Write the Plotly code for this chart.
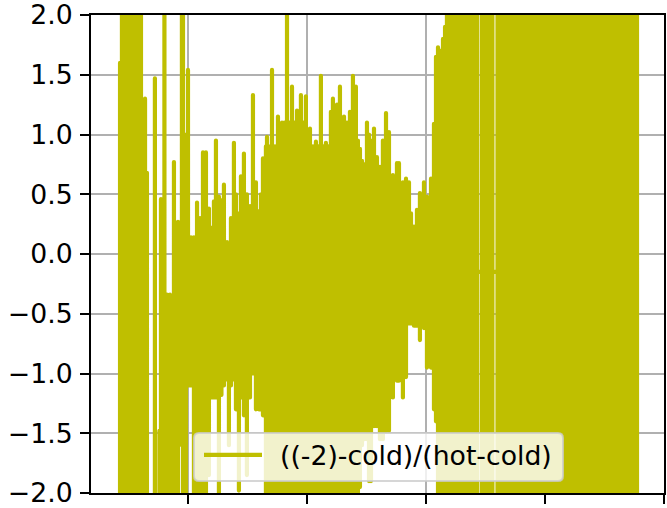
import plotly.graph_objects as go

SERIES_NAME = "((-2)-cold)/(hot-cold)"

sample_x = [
    429, 445, 479, 512, 546, 580, 605, 639, 655, 681,
    722, 760, 773, 802, 823, 849, 882, 916, 949, 958,
    983, 1000, 1025, 1050, 1076, 1101, 1126, 1151, 1176, 1202,
    1218, 1235, 1260, 1281, 1302, 1328, 1344, 1361, 1386, 1403,
    1428, 1445, 1470, 1495, 1521, 1546, 1571, 1596, 1613, 1630,
    1655, 1664, 1689, 1706, 1731, 1756, 1790, 1811, 1832, 1853,
    1874, 1895, 1916, 1949, 1970, 1991, 2025, 2050, 2075, 2096,
    2117, 2138, 2159, 2180, 2201, 2218, 2252, 2277, 2311, 2336,
    2361, 2386, 2411, 2428, 2445, 2462, 2483, 2504, 2521, 2538,
    2563, 2588, 2613, 2638, 2664, 2689, 2722, 2756, 2773, 2806,
    2832, 2857, 2874, 2899, 2924, 2949, 2983, 3008, 3042, 3067,
    3084, 3101, 3122, 3143, 3160, 3176, 3210, 3243, 3277, 3311,
    3344, 3378, 3412, 3428, 3468, 3496, 3529, 3558, 3601, 3630,
    3664, 3697, 3731, 3764, 3798, 3832, 3865, 3899, 3933, 3966,
    4000, 4033, 4067, 4101, 4134, 4168, 4201, 4235, 4269, 4302,
    4336, 4369, 4403, 4437, 4470, 4504, 4537, 4571, 4605, 4638,
    4672, 4705, 4739, 4773, 4781,
]
upper = [
    1.6, 2.6, 2.7, 2.6, 2.8, 2.6, 2.7, 1.30, 0.68, None,
    1.47, -1.48, 0.46, 2.6, -0.34, -0.34, 0.77, 0.27, 2.6, 2.6,
    1.0, 1.54, 0.14, 0.14, 0.43, 0.30, 0.85, 0.85, 0.38, 0.22,
    0.44, 0.95, 0.48, 0.45, 0.58, 0.10, 0.08, 0.30, 0.93, 0.50,
    0.34, 0.65, 0.84, 0.50, 0.40, 1.33, 0.60, 0.36, 0.50, 0.80,
    0.90, 0.98, 0.90, 1.54, 0.90, 1.15, 1.10, 1.10, 2.6, 1.10,
    1.40, 1.10, 1.20, 1.33, 1.10, 1.32, 1.05, 0.90, 0.94, 0.90,
    1.49, 0.90, 0.93, 0.90, 1.19, 1.30, 1.25, 1.40, 1.15, 1.10,
    1.19, 1.49, 1.40, 0.95, 0.88, 0.78, 0.75, 1.10, 1.00, 0.95,
    1.05, 0.81, 0.73, 0.95, 1.18, 1.02, 0.66, 0.76, 0.76, 0.60,
    0.63, 0.60, 0.34, 0.23, 0.37, 0.51, 0.60, 0.48, 0.63, 1.09,
    1.65, 1.73, 1.70, 1.80, 1.90, 2.6, 2.7, 2.9, 2.6, 2.8,
    2.7, 2.6, 2.9, 2.7, 2.6, 2.8, 2.7, 2.6, 2.9, 2.6,
    2.8, 2.7, 2.6, 2.9, 2.7, 2.6, 2.8, 2.6, 2.7, 2.9,
    2.6, 2.8, 2.7, 2.6, 2.9, 2.7, 2.6, 2.8, 2.6, 2.7,
    2.9, 2.6, 2.8, 2.7, 2.6, 2.9, 2.7, 2.6, 2.8, 2.6,
    2.7, 2.9, 2.6, 2.8, 2.7,
]
lower = [
    -3.0, -2.8, -3.0, -2.9, -3.0, -2.8, -3.0, -2.9, -3.0, None,
    -3.0, -3.0, -3.0, -3.0, -3.0, -3.0, -3.0, -3.0, -1.6, -3.0,
    -3.0, -1.1, -1.1, -3.0, -3.0, -3.0, -3.0, -3.0, -1.85, -1.2,
    -1.2, -1.2, -3.0, -1.18, -1.1, -1.05, -1.6, -1.1, -1.05, -1.3,
    -1.98, -1.2, -1.35, -1.85, -1.2, -1.0, -1.3, -1.3, -1.3, -1.35,
    -3.0, -3.0, -3.0, -3.0, -3.0, -3.0, -3.0, -3.0, -3.0, -3.0,
    -3.0, -3.0, -3.0, -3.0, -3.0, -3.0, -3.0, -3.0, -3.0, -3.0,
    -3.0, -3.0, -3.0, -3.0, -3.0, -3.0, -3.0, -3.0, -3.0, -3.0,
    -3.0, -3.0, -3.0, -3.0, -1.95, -1.6, -1.55, -1.55, -1.9, -1.9,
    -1.44, -1.44, -1.55, -1.55, -1.48, -1.48, -1.2, -1.06, -1.06, -1.2,
    -1.03, -0.58, -0.58, -0.6, -0.6, -0.72, -0.62, -0.95, -0.95, -1.3,
    -1.4, -3.0, -3.0, -3.0, -3.0, -3.0, -2.9, -3.1, -2.8, -3.0,
    -2.9, -3.1, -2.8, -3.0, -2.9, -3.1, -2.8, -3.0, -2.9, -3.1,
    -2.8, -3.0, -2.9, -3.1, -2.8, -3.0, -2.9, -3.1, -2.8, -3.0,
    -2.9, -3.1, -2.8, -3.0, -2.9, -3.1, -2.8, -3.0, -2.9, -3.1,
    -2.8, -3.0, -2.9, -3.1, -2.8, -3.0, -2.9, -3.1, -2.8, -3.0,
    -2.9, -3.1, -2.8, -3.0, -2.9,
]
assert len(sample_x) == len(upper) == len(lower)

# Vertical stroke per sample, joined to the next one inside their shared span.
line_x, line_y = [], []
for i, x in enumerate(sample_x):
    if upper[i] is None:
        line_x.append(x)
        line_y.append(None)
        continue
    line_x += [x, x]
    line_y += [upper[i], lower[i]]
    if i + 1 < len(sample_x) and upper[i + 1] is not None:
        link = (max(lower[i], lower[i + 1]) + min(upper[i], upper[i + 1])) / 2
        line_x += [x, sample_x[i + 1]]
        line_y += [link, link]

W, H = 667, 508
L, R, T, B = 91, 664, 15, 493

def px(v):
    return f"{(v - L) / (R - L):.5f}"

def py(v):
    return f"{(B - v) / (B - T):.5f}"

x0, x1, y0, y1, r = 194, 563, 433, 481, 5
frame = (
    f"M {px(x0 + r)} {py(y0)} L {px(x1 - r)} {py(y0)} Q {px(x1)} {py(y0)} {px(x1)} {py(y0 + r)} "
    f"L {px(x1)} {py(y1 - r)} Q {px(x1)} {py(y1)} {px(x1 - r)} {py(y1)} "
    f"L {px(x0 + r)} {py(y1)} Q {px(x0)} {py(y1)} {px(x0)} {py(y1 - r)} "
    f"L {px(x0)} {py(y0 + r)} Q {px(x0)} {py(y0)} {px(x0 + r)} {py(y0)} Z"
)

fig = go.Figure(go.Scatter(
    x=line_x, y=line_y, mode="lines", name=SERIES_NAME,
    line=dict(color="#bfbf00", width=4.2), connectgaps=False,
))
fig.update_layout(
    width=W, height=H, autosize=False,
    margin=dict(l=L, r=W - R, t=T, b=H - B, pad=0, autoexpand=False),
    paper_bgcolor="white", plot_bgcolor="white",
    font=dict(family="DejaVu Sans", size=26.7, color="black"),
    showlegend=True,
    legend=dict(
        x=(199 - L) / (R - L), y=(B - 431) / (B - T),
        xanchor="left", yanchor="top",
        bgcolor="rgba(0,0,0,0)", borderwidth=0,
        itemwidth=58,
        font=dict(size=26.7, family="DejaVu Sans"),
    ),
    shapes=[dict(
        type="path", path=frame, xref="paper", yref="paper", layer="above",
        fillcolor="rgba(255,255,255,0.8)", line=dict(color="rgba(204,204,204,0.8)", width=2),
    )],
    xaxis=dict(
        range=[185, 5000], tick0=0, dtick=1000, showticklabels=False,
        ticks="outside", ticklen=9, tickwidth=2, tickcolor="black", automargin=False,
        showline=True, linecolor="black", linewidth=2, mirror=True,
        showgrid=True, gridcolor="#b0b0b0", gridwidth=2, zeroline=False,
    ),
    yaxis=dict(
        range=[-2, 2], tick0=-2, dtick=0.5, tickformat=".1f", automargin=False,
        ticklabeloverflow="allow", ticklabelstandoff=2,
        ticks="outside", ticklen=9, tickwidth=2, tickcolor="black",
        showline=True, linecolor="black", linewidth=2, mirror=True,
        showgrid=True, gridcolor="#b0b0b0", gridwidth=2, zeroline=False,
    ),
)
finish = (
    "document.body.style.margin='0';"
    "document.querySelectorAll('.scatterlayer .js-line').forEach(function(e)"
    "{e.style.strokeLinejoin='round';e.style.strokeLinecap='round';});"
    "document.querySelectorAll('.legendtext').forEach(function(e)"
    "{e.setAttribute('x',parseFloat(e.getAttribute('x'))+13);});"
    "document.querySelectorAll('.legend [clip-path], .legend .scrollbox, .legend .traces').forEach(function(e)"
    "{e.removeAttribute('clip-path');e.style.clipPath='none';});"
)
fig.write_html("out.html", post_script=finish, config={"displayModeBar": False})
